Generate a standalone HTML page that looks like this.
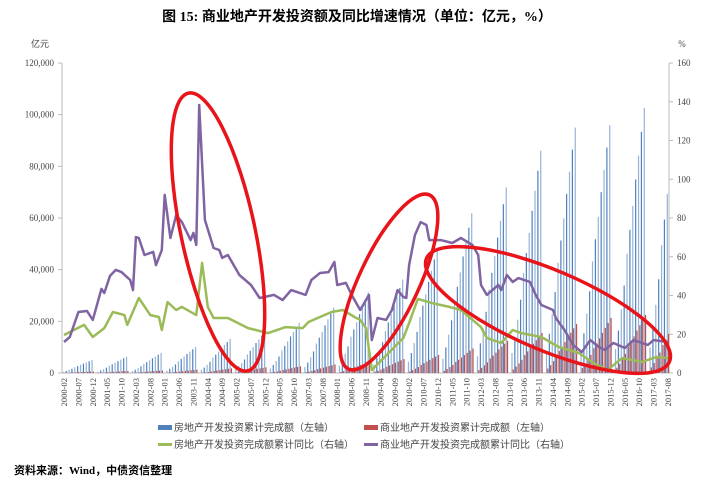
<!DOCTYPE html>
<html><head><meta charset="utf-8">
<style>
body{margin:0;background:#fff;width:715px;height:482px;overflow:hidden;font-family:"Liberation Serif","Noto Serif CJK SC","Noto Sans CJK SC",serif;}
svg text{font-family:"Liberation Serif","Noto Sans CJK SC",sans-serif;}
</style></head><body>
<svg id="chart" width="715" height="482" xmlns="http://www.w3.org/2000/svg">
<text x="357" y="21" text-anchor="middle" font-size="14" font-weight="bold" fill="#000">图 15: 商业地产开发投资额及同比增速情况（单位：亿元，%）</text>
<text x="40" y="47" text-anchor="middle" font-size="9" fill="#444">亿元</text>
<text x="682" y="47" text-anchor="middle" font-size="9" fill="#444">%</text>
<g id="axes"></g>
<g id="bars"></g>
<g id="lines"></g>
<g id="xlabels"></g>
<g fill="none" stroke="#e8141a" stroke-width="3.5">
<ellipse cx="218" cy="232" rx="37" ry="142" transform="rotate(-12 218 232)"/>
<ellipse cx="389" cy="282" rx="30" ry="96" transform="rotate(25 389 282)"/>
<ellipse cx="548" cy="310" rx="132" ry="40" transform="rotate(23 548 310)"/>
</g>
<g font-size="10" fill="#444">
<rect x="158" y="425" width="14" height="5" fill="#4f81bd"/>
<text x="174" y="431">房地产开发投资累计完成额（左轴）</text>
<rect x="364" y="425" width="14" height="5" fill="#c0504d"/>
<text x="380" y="431">商业地产开发投资累计完成额（左轴）</text>
<rect x="158" y="443" width="14" height="3" fill="#9bbb59"/>
<text x="174" y="448">房地产开发投资完成额累计同比（右轴）</text>
<rect x="364" y="443" width="14" height="3" fill="#8064a2"/>
<text x="380" y="448">商业地产开发投资完成额累计同比（右轴）</text>
</g>
<text x="14" y="474" font-size="11" font-weight="bold" fill="#000">资料来源：Wind，中债资信整理</text>
</svg>
<script>
const years = [2000,2001,2002,2003,2004,2005,2006,2007,2008,2009,2010,2011,2012,2013,2014,2015,2016,2017];
const realEstateAnnual = [5000,6300,7800,10100,13200,15900,19400,25300,31200,36200,48300,61800,71800,86000,95000,95900,102600,110000];
const commercialAnnual = [600,800,1000,1300,1800,2200,2600,3300,4300,5400,7000,9500,12500,15500,19000,21300,22500,24000];
// cumulative share of annual total by calendar month (Jan..Dec)
const monthShare = [0,0.09,0.16,0.24,0.33,0.45,0.54,0.63,0.73,0.82,0.91,1.0];
const monthCount = 211; // 2000-02 .. 2017-08
const leftTicks = [0,20000,40000,60000,80000,100000,120000];
const leftTickLabels = ["0","20,000","40,000","60,000","80,000","100,000","120,000"];
const rightTicks = [0,20,40,60,80,100,120,140,160];
// growth lines: month index (0 = 2000-02) and value %
const commMonths = [0,2,5,8,10,13,14,16,18,20,23,24,25,26,28,31,32,34,35,37,39,41,44,45,46,47,49,52,54,55,57,59,61,65,68,73,76,79,84,86,89,92,94,95,98,100,103,105,106,107,109,112,114,116,118,119,120,122,124,126,127,131,135,138,142,144,145,147,151,152,154,156,158,162,164,166,170,171,174,177,180,183,186,188,191,195,198,203,205,210];
const commYoY = [16.0,18.6,31.5,32.0,27.4,43.4,41.3,50.1,53.2,52.1,48.0,42.8,70.2,69.7,60.9,62.5,55.7,63.5,91.9,69.7,81.5,77.9,68.6,72.3,66.1,138.3,79.0,64.5,63.5,59.4,60.9,55.7,50.6,45.4,38.7,40.3,37.7,42.8,40.3,48.0,51.6,52.1,57.3,45.4,46.5,40.3,32.5,37.7,40.3,17.0,28.4,27.4,32.5,42.8,39.2,38.7,55.7,71.2,77.9,76.4,68.6,68.6,67.1,69.7,66.1,60.9,45.4,40.3,45.4,42.8,50.6,47.0,49.0,47.0,40.3,35.1,32.5,28.4,22.2,14.5,10.8,17.0,13.4,11.9,15.5,12.9,17.0,14.5,17.0,16.0];
const reMonths = [0,7,10,14,17,21,22,26,30,33,34,36,39,41,46,48,50,52,57,64,71,77,83,85,93,97,101,103,105,107,118,120,123,128,134,138,145,147,152,156,159,166,172,179,184,189,194,201,206,210];
const reYoY = [19.6,24.8,18.6,23.2,31.5,29.9,24.8,38.7,29.9,28.9,22.2,36.6,32.5,34.1,29.9,56.8,34.1,28.4,28.4,23.2,20.6,23.7,23.2,26.3,31.5,32.5,28.9,27.4,23.2,1.5,18.1,25.8,38.2,36.1,34.1,32.5,23.7,18.1,15.5,22.2,20.6,18.6,13.4,10.3,5.2,1.5,7.7,5.7,8.3,7.7];

const NS="http://www.w3.org/2000/svg";
const X0=64, X1=668, Y0=373, YT=63;
const xS = m => X0 + m*(X1-X0)/(monthCount-1);
const yL = v => Y0 - v/120000*(Y0-YT);
const yR = v => Y0 - v/160*(Y0-YT);
function mk(tag, attrs, parent){const e=document.createElementNS(NS,tag);for(const k in attrs)e.setAttribute(k,attrs[k]);parent.appendChild(e);return e;}

const axes=document.getElementById('axes');
let la=mk('line',{x1:62,y1:YT,x2:62,y2:Y0,stroke:'#bbb'},axes);


let ra=mk('line',{x1:669,y1:YT,x2:669,y2:Y0,stroke:'#bbb'},axes);


let xa=mk('line',{x1:62,y1:Y0,x2:669,y2:Y0,stroke:'#bbb'},axes);


leftTicks.forEach((v,i)=>{
  mk('line',{x1:58,y1:yL(v),x2:62,y2:yL(v),stroke:'#bbb'},axes);
  const t=mk('text',{x:54,y:yL(v)+3,'text-anchor':'end','font-size':9,fill:'#444'},axes);
  t.textContent=leftTickLabels[i];
  
  
});
rightTicks.forEach(v=>{
  mk('line',{x1:669,y1:yR(v),x2:673,y2:yR(v),stroke:'#bbb'},axes);
  const t=mk('text',{x:677,y:yR(v)+3,'font-size':9,fill:'#444'},axes);
  t.textContent=String(v);
  
  
});

const bars=document.getElementById('bars');
const xl=document.getElementById('xlabels');
for(let m=0;m<monthCount;m++){
  const yi=Math.floor((m+1)/12), mon=(m+1)%12; // mon 0=Jan
  const share=monthShare[mon];
  const x=xS(m);
  const re=realEstateAnnual[yi]*share, cm=commercialAnnual[yi]*share;
  if(re>0){
    const b=mk('rect',{x:x-1.3,y:yL(re),width:1.2,height:Y0-yL(re),fill:(m%2?'#4f81bd':'#95b3d7')},bars);
    
    
  }
  if(cm>0){
    const b=mk('rect',{x:x,y:yL(cm),width:1.2,height:Y0-yL(cm),fill:'#c0504d'},bars);
    
    
  }
  if(m%5===0){
    const mm=mon+1;
    const lbl=years[yi]+'-'+(mm<10?'0':'')+mm;
    const t=mk('text',{x:0,y:0,'font-size':8.5,fill:'#444','text-anchor':'end',transform:`translate(${x+3},378) rotate(-90)`},xl);
    t.textContent=lbl;
    
    
  }
}
const lines=document.getElementById('lines');
function line(ms,vs,color,name){
  const d=ms.map((m,i)=>(i?'L':'M')+xS(m).toFixed(1)+','+yR(vs[i]).toFixed(1)).join('');
  const p=mk('path',{d:d,fill:'none',stroke:color,'stroke-width':2.5,'stroke-linejoin':'round'},lines);
  
  
}
line(reMonths,reYoY,'#9bbb59','line-real-estate-yoy');
line(commMonths,commYoY,'#8064a2','line-commercial-yoy');
</script>
</body></html>
